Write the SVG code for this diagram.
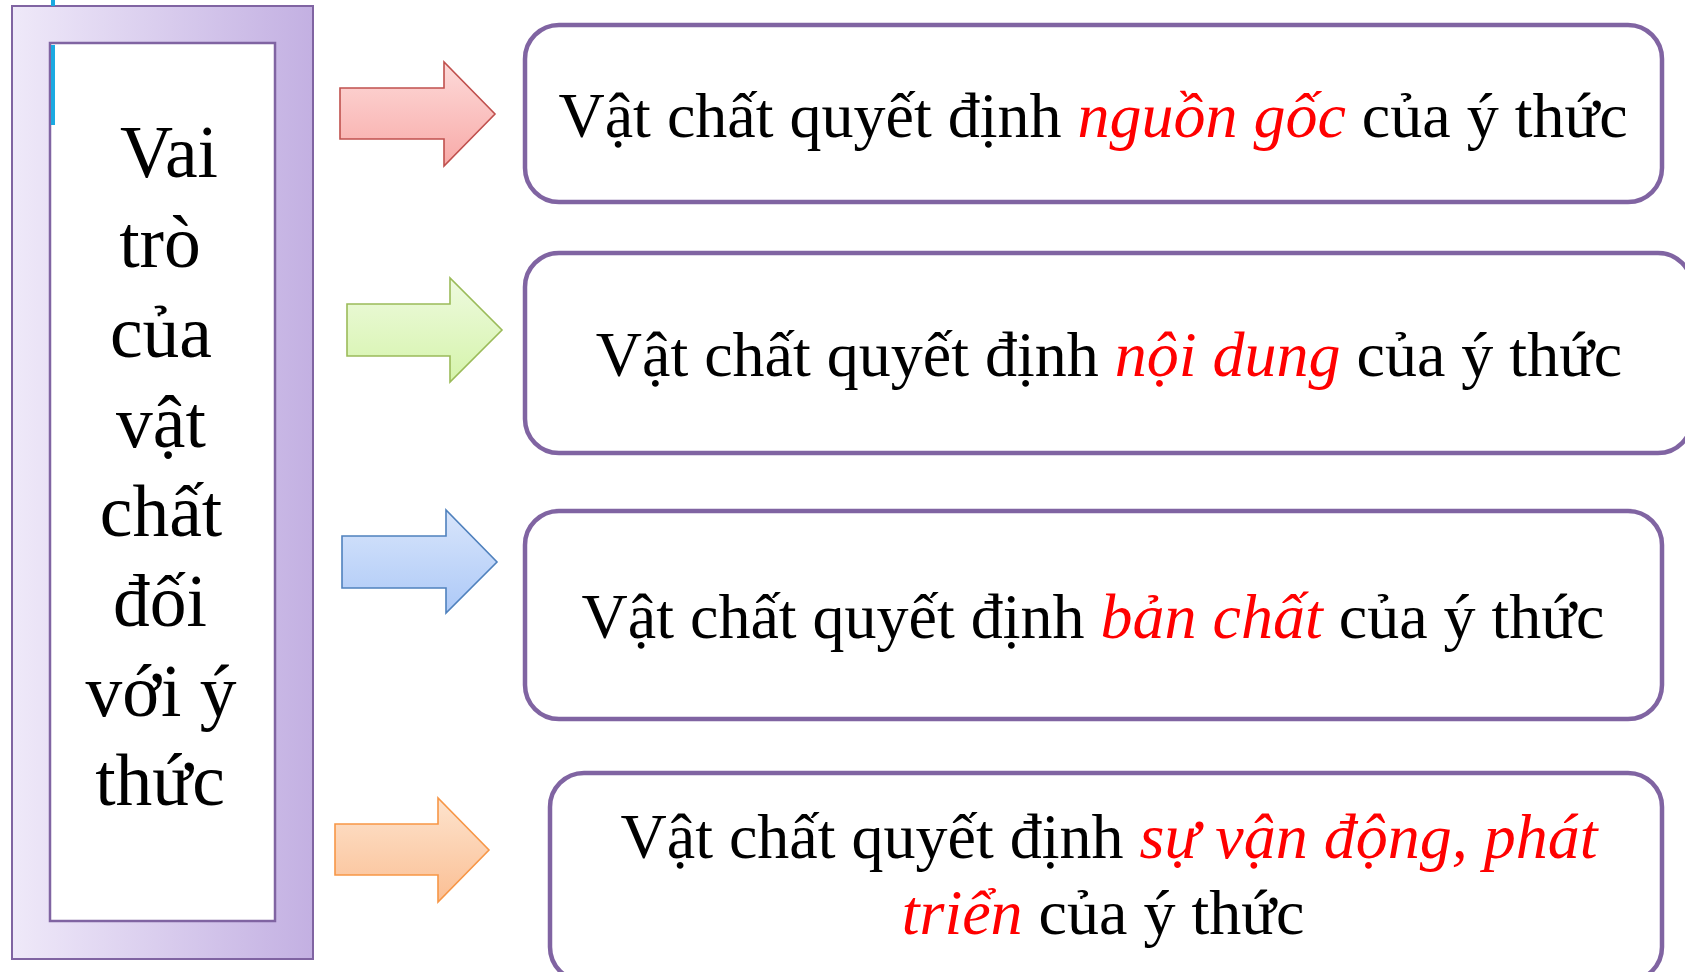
<svg xmlns="http://www.w3.org/2000/svg" width="1685" height="972" viewBox="0 0 1685 972">
<style>
.t{font-family:"Liberation Serif","Times New Roman",serif;fill:#000}
.box{fill:#fff;stroke:#8064a2;stroke-width:4.5}
.hl{fill:#ff0000;font-style:italic}
.side{font-size:73.5px;text-anchor:middle}
.main{font-size:64px;text-anchor:middle}
.arr{stroke-width:1.6}
</style>
<defs>
<linearGradient id="gFrame" x1="0" y1="0" x2="1" y2="0">
<stop offset="0" stop-color="#efe9f9"/>
<stop offset="1" stop-color="#c3b0e2"/>
</linearGradient>
<linearGradient id="gRed" x1="0" y1="0" x2="0" y2="1">
<stop offset="0" stop-color="#fddad9"/>
<stop offset="1" stop-color="#f8aaa8"/>
</linearGradient>
<linearGradient id="gGreen" x1="0" y1="0" x2="0" y2="1">
<stop offset="0" stop-color="#eefadf"/>
<stop offset="1" stop-color="#d5f4ab"/>
</linearGradient>
<linearGradient id="gBlue" x1="0" y1="0" x2="0" y2="1">
<stop offset="0" stop-color="#d8e5fb"/>
<stop offset="1" stop-color="#adc9f7"/>
</linearGradient>
<linearGradient id="gOrange" x1="0" y1="0" x2="0" y2="1">
<stop offset="0" stop-color="#fde3cd"/>
<stop offset="1" stop-color="#fbbf94"/>
</linearGradient>
</defs>

<g id="side-node">
<rect x="12" y="6" width="301" height="953" fill="url(#gFrame)" stroke="#8064a2" stroke-width="2"/>
<rect x="50" y="43" width="225" height="878" fill="#fff" stroke="#8064a2" stroke-width="2.5"/>
<rect x="51" y="0" width="4" height="6" fill="#1ba9e1"/>
<rect x="51" y="45" width="4" height="80" fill="#1ba9e1"/>
<text class="t side" x="169" y="177">Vai</text>
<text class="t side" x="160" y="267">trò</text>
<text class="t side" x="161" y="357">của</text>
<text class="t side" x="161" y="447">vật</text>
<text class="t side" x="161" y="536">chất</text>
<text class="t side" x="160" y="626">đối</text>
<text class="t side" x="161" y="716">với ý</text>
<text class="t side" x="160" y="805">thức</text>
</g>

<g id="connectors">
<path class="arr" d="M340,88 H444 V62 L495,114 L444,166 V139 H340 Z" fill="url(#gRed)" stroke="#c0504d"/>
<path class="arr" d="M347,304 H450 V278 L502,330 L450,382 V356 H347 Z" fill="url(#gGreen)" stroke="#9bbb59"/>
<path class="arr" d="M342,536 H446 V510 L497,562 L446,613 V588 H342 Z" fill="url(#gBlue)" stroke="#4f81bd"/>
<path class="arr" d="M335,824 H438 V798 L489,850 L438,902 V875 H335 Z" fill="url(#gOrange)" stroke="#f79646"/>
</g>

<g id="node-1">
<rect class="box" x="525" y="25" width="1137" height="177" rx="34"/>
<text class="t main" x="1093" y="137">Vật chất quyết định <tspan class="hl">nguồn gốc</tspan> của ý thức</text>
</g>

<g id="node-2">
<rect class="box" x="525" y="253" width="1167" height="200" rx="34"/>
<text class="t main" x="1109" y="376">Vật chất quyết định <tspan class="hl">nội dung</tspan> của ý thức</text>
</g>

<g id="node-3">
<rect class="box" x="525" y="511" width="1137" height="208" rx="34"/>
<text class="t main" x="1093" y="638">Vật chất quyết định <tspan class="hl">bản chất</tspan> của ý thức</text>
</g>

<g id="node-4">
<rect class="box" x="550" y="773" width="1112" height="208" rx="34"/>
<text class="t main" x="1109" y="858">Vật chất quyết định <tspan class="hl">sự vận động, phát</tspan></text>
<text class="t main" x="1103" y="934"><tspan class="hl">triển</tspan> của ý thức</text>
</g>
</svg>
